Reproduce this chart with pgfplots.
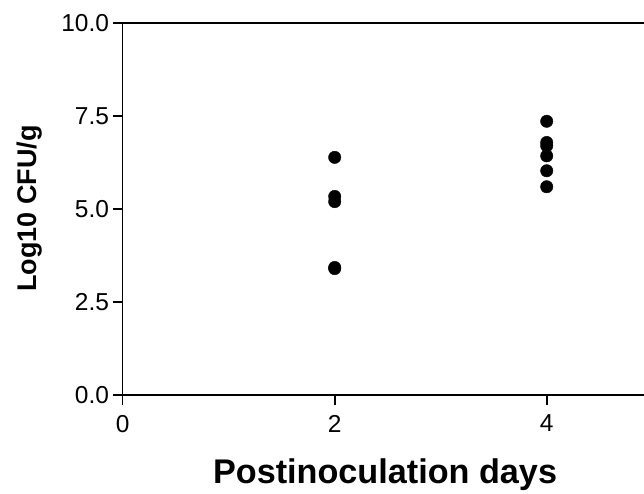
\documentclass[border=0pt]{standalone}
\usepackage{pgfplots}
\pgfplotsset{compat=1.18}
\usepackage{fontspec}
\setmainfont{Liberation Sans}
\begin{document}
\begin{tikzpicture}
\begin{axis}[
  scale only axis,
  width=530pt, height=372pt,
  xmin=0, xmax=5, ymin=0, ymax=10,
  axis x line*=bottom, axis y line*=left,
  axis line style={line width=1.6pt, -},
  every tick/.style={line width=1.6pt, black},
  tick align=outside,
  major tick length=10pt,
  xtick={0,2,4}, ytick={0,2.5,5,7.5,10},
  y tick label style={/pgf/number format/fixed, /pgf/number format/fixed zerofill, /pgf/number format/precision=1},
  /pgf/number format/assume math mode=true,
  tick label style={font=\fontsize{24.5}{29}\selectfont},
  xticklabel style={inner sep=0pt, anchor=north, yshift=-10pt},
  yticklabel style={inner sep=0pt, anchor=east, xshift=-3.5pt},
  xlabel={\textbf{Postinoculation days}},
  ylabel={\textbf{Log10 CFU/g}},
  xlabel style={font=\fontsize{34.2}{40}\selectfont, at={(axis description cs:0.495,0)}, anchor=base, yshift=-88.3pt},
  ylabel style={font=\fontsize{27}{32}\selectfont, at={(axis description cs:0,0.5)}, anchor=base, yshift=86pt},
  clip=false,
]
\draw[line width=1.6pt] (rel axis cs:0,1) -- (rel axis cs:1,1);
\addplot[only marks, mark=*, mark size=6.2pt, black] coordinates {
(2,6.38) (2,5.33) (2,5.19) (2,3.42) (2,3.39)
(4,7.35) (4,6.78) (4,6.69) (4,6.42) (4,6.02) (4,5.59)
};
\end{axis}
\pgfresetboundingbox
\path (-122.7pt,-98.3pt) rectangle (521.3pt,394.7pt);
\end{tikzpicture}
\end{document}
